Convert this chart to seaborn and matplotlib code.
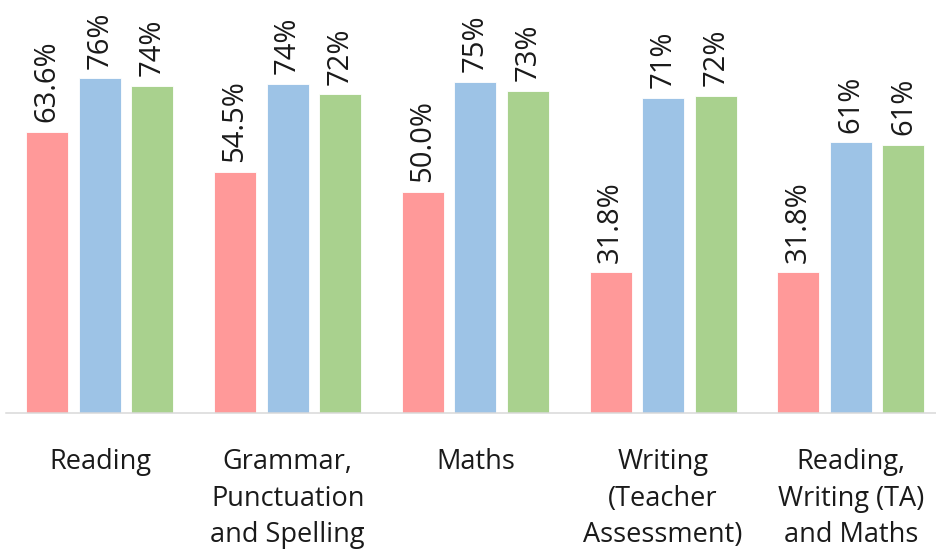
import seaborn as sns
import pandas as pd
import matplotlib.pyplot as plt

categories = [
    "Reading",
    "Grammar,\nPunctuation\nand Spelling",
    "Maths",
    "Writing\n(Teacher\nAssessment)",
    "Reading,\nWriting (TA)\nand Maths",
]
series = ["School", "Local Authority", "National"]
school = [63.6, 54.5, 50.0, 31.8, 31.8]
local_authority = [75.7, 74.4, 74.9, 71.3, 61.2]
national = [74.0, 72.1, 72.9, 71.7, 60.6]
label_formats = ["{:.1f}%", "{:.0f}%", "{:.0f}%"]
colors = ["#FF9999", "#9DC3E6", "#A9D18E"]


def main():
    data = pd.DataFrame({
        "subject": categories * 3,
        "group": [s for s in series for _ in categories],
        "value": school + local_authority + national,
    })

    sns.set_theme(style="white")
    plt.rcParams["font.family"] = ["Open Sans", "DejaVu Sans"]

    fig = plt.figure(figsize=(9.37, 5.54), dpi=100)
    ax = fig.add_axes([6 / 937, 141 / 554, 931 / 937, 413 / 554])

    sns.barplot(
        data=data,
        x="subject",
        y="value",
        hue="group",
        order=categories,
        hue_order=series,
        palette=colors,
        saturation=1,
        width=0.84,
        gap=0.2,
        edgecolor="white",
        linewidth=0.6,
        legend=False,
        ax=ax,
    )

    for container, fmt in zip(ax.containers, label_formats):
        ax.bar_label(
            container,
            fmt=fmt,
            rotation=90,
            padding=7,
            fontsize=21,
            color="#1a1a1a",
        )

    ax.set_xlim(-0.5, 931 / 187.75 - 0.5)
    ax.set_ylim(0, 413 / 4.42)
    ax.set_xlabel("")
    ax.set_ylabel("")
    ax.set_yticks([])
    ax.tick_params(axis="x", length=0, pad=25, labelsize=19.5, labelcolor="#1a1a1a")
    for label in ax.get_xticklabels():
        label.set_linespacing(1.42)
    for side in ["left", "right", "top"]:
        ax.spines[side].set_visible(False)
    ax.spines["bottom"].set_color("#D9D9D9")
    ax.spines["bottom"].set_linewidth(1.1)

    fig.savefig("out.png", dpi=100)


if __name__ == "__main__":
    main()
